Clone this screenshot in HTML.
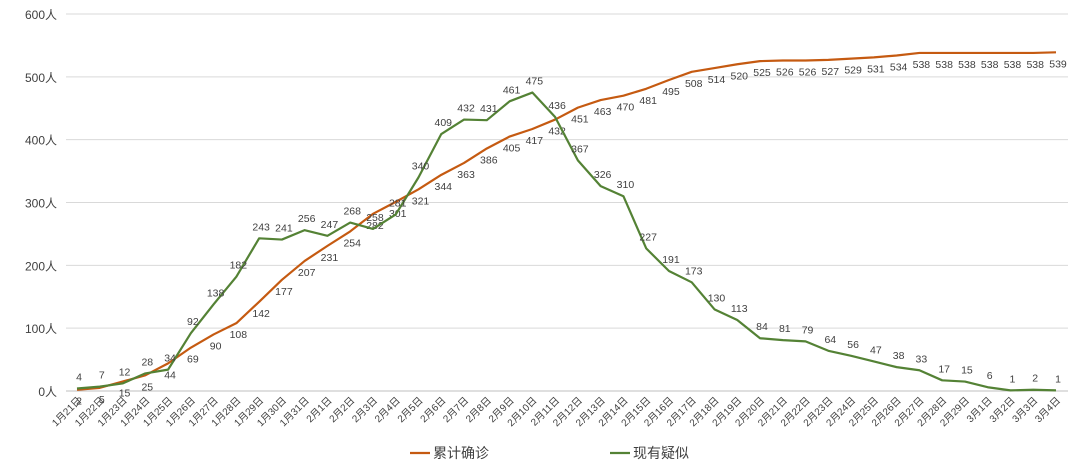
<!DOCTYPE html>
<html><head><meta charset="utf-8"><style>
body{margin:0;background:#fff;}
svg{display:block;font-family:"Liberation Sans","Noto Sans CJK SC",sans-serif;}
</style></head><body>
<svg id="chart" width="1080" height="471" viewBox="0 0 1080 471"></svg>
<script>
const categories=["1月21日","1月22日","1月23日","1月24日","1月25日","1月26日","1月27日","1月28日","1月29日","1月30日","1月31日","2月1日","2月2日","2月3日","2月4日","2月5日","2月6日","2月7日","2月8日","2月9日","2月10日","2月11日","2月12日","2月13日","2月14日","2月15日","2月16日","2月17日","2月18日","2月19日","2月20日","2月21日","2月22日","2月23日","2月24日","2月25日","2月26日","2月27日","2月28日","2月29日","3月1日","3月2日","3月3日","3月4日"];
const confirmed=[2,5,15,25,44,69,90,108,142,177,207,231,254,282,301,321,344,363,386,405,417,432,451,463,470,481,495,508,514,520,525,526,526,527,529,531,534,538,538,538,538,538,538,539];
const suspected=[4,7,12,28,34,92,138,182,243,241,256,247,268,258,281,340,409,432,431,461,475,436,367,326,310,227,191,173,130,113,84,81,79,64,56,47,38,33,17,15,6,1,2,1];
const yTicks=[0,100,200,300,400,500,600];
const NS="http://www.w3.org/2000/svg";
const svg=document.getElementById('chart');
const X0=77,X1=1056,Y0=391,Y1=14,YMAX=600;
function xs(i){return X0+(X1-X0)*i/(categories.length-1);}
function ys(v){return Y0-(Y0-Y1)*v/YMAX;}
function mk(tag,attrs,txt){const e=document.createElementNS(NS,tag);for(const k in attrs)e.setAttribute(k,attrs[k]);if(txt!==undefined)e.textContent=txt;svg.appendChild(e);return e;}
yTicks.forEach(t=>{
 const g=mk('line',{x1:66,x2:1068,y1:ys(t),y2:ys(t),stroke:t===0?'#bfbfbf':'#d9d9d9','stroke-width':1});
 
 
 const l=mk('text',{x:57,y:ys(t)+5,'text-anchor':'end','font-size':12,fill:'#404040'},t+'人');
 
 
});
categories.forEach((c,i)=>{
 const x=xs(i);
 const t=mk('text',{x:x+5,y:Y0+10,'text-anchor':'end','font-size':10,fill:'#404040',transform:`rotate(-45 ${x+5} ${Y0+10})`},c);
 
 
});
function series(data,color,name,dy){
 const p=mk('polyline',{points:data.map((v,i)=>xs(i)+','+ys(v)).join(' '),fill:'none',stroke:color,'stroke-width':2.2,'stroke-linejoin':'round'});
 
 
 data.forEach((v,i)=>{
  const t=mk('text',{x:xs(i)+2,y:ys(v)+dy,'text-anchor':'middle','font-size':10.5,fill:'#404040'},v);
  
  
 });
}
series(confirmed,'#c55a11','confirmed',15);
series(suspected,'#548235','suspected',-8);
const l1=mk('line',{x1:410,x2:430,y1:453,y2:453,stroke:'#c55a11','stroke-width':2.2});


const t1=mk('text',{x:433,y:458,'font-size':14,fill:'#404040'},'累计确诊');


const l2=mk('line',{x1:610,x2:630,y1:453,y2:453,stroke:'#548235','stroke-width':2.2});


const t2=mk('text',{x:633,y:458,'font-size':14,fill:'#404040'},'现有疑似');


</script>
</body></html>
